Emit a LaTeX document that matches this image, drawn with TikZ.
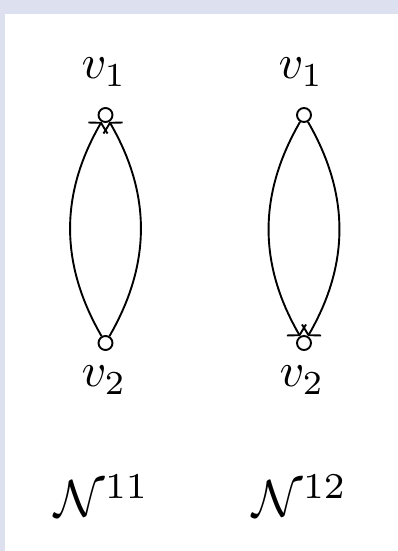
\documentclass[tikz,border=0pt]{standalone}
\usetikzlibrary{arrows.meta}
\definecolor{bandcol}{RGB}{221,224,239}
\begin{document}
\begin{tikzpicture}[x=1pt,y=1pt,
  vert/.style={circle,draw,line width=1.9pt,minimum size=14pt,inner sep=0pt},
  lbl/.style={anchor=base,inner sep=0pt,scale=4.8,transform shape},
  netlbl/.style={anchor=base,inner sep=0pt,scale=5.2,transform shape},
  edge/.style={line width=1.9pt,-{Straight Barb[length=6pt,width=22pt]}}]
\fill[bandcol] (0,0) rectangle (398,551);
\fill[white] (5,0) rectangle (398,537);
\useasboundingbox (0,0) rectangle (398,551);
% left graph N^11
\node[vert] (a1) at (105.5,436) {};
\node[vert] (a2) at (105.5,208) {};
\node[lbl] (la1) at (104,472) {$v_1$};
\node[lbl] (la2) at (104,164) {$v_2$};
\node[netlbl] (na) at (102,34) {$\mathcal{N}^{11}$};
\draw[edge] (a2) to[bend left=30] (a1);
\draw[edge] (a2) to[bend right=30] (a1);
% right graph N^12
\node[vert] (b1) at (304,436) {};
\node[vert] (b2) at (304,208) {};
\node[lbl] (lb1) at (301,472) {$v_1$};
\node[lbl] (lb2) at (302,164) {$v_2$};
\node[netlbl] (nb) at (300,34) {$\mathcal{N}^{12}$};
\draw[edge] (b1) to[bend right=30] (b2);
\draw[edge] (b1) to[bend left=30] (b2);
\end{tikzpicture}
\end{document}
